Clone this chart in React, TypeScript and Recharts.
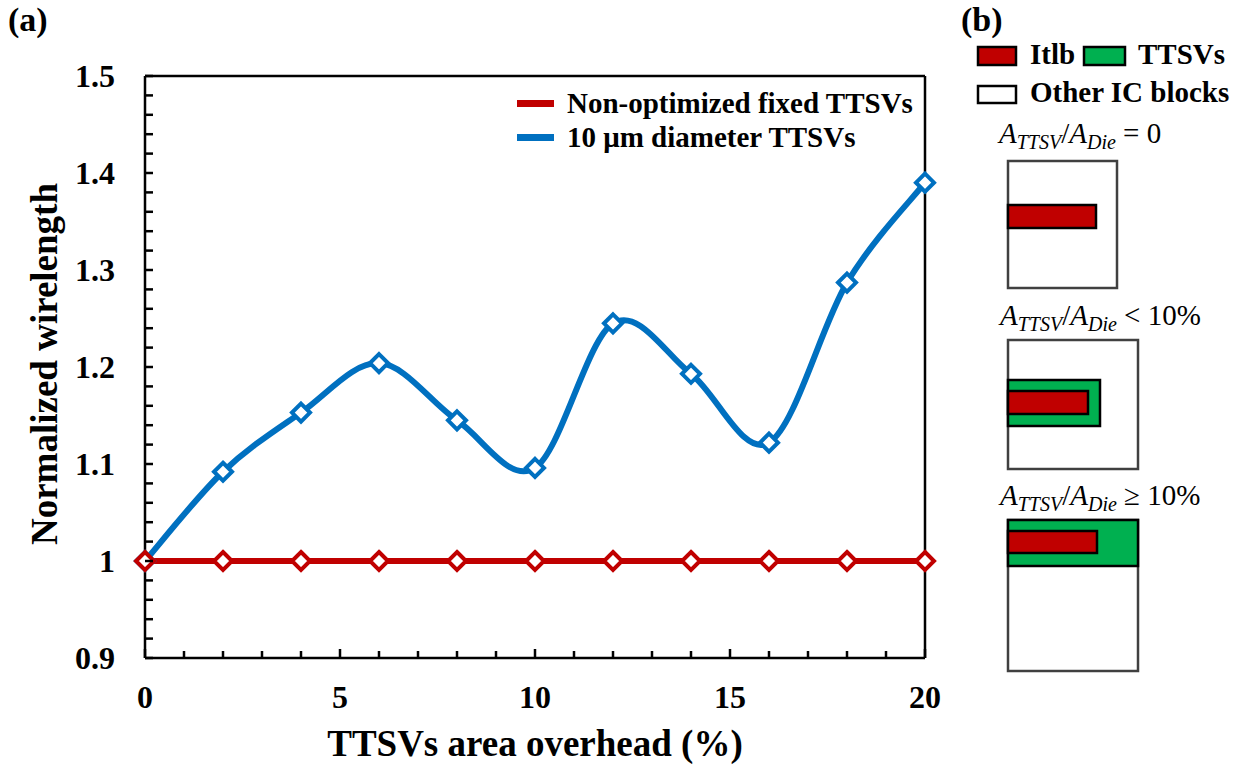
import { LineChart, Line, XAxis, YAxis, Legend, ReferenceLine, Label } from "recharts";

const OVERHEAD = [0, 2, 4, 6, 8, 10, 12, 14, 16, 18, 20];
const FIXED_TTSV = [1, 1, 1, 1, 1, 1, 1, 1, 1, 1, 1];
const TTSV_10UM = [1, 1.092, 1.153, 1.204, 1.145, 1.096, 1.245, 1.193, 1.122, 1.287, 1.39];

const X_LABELS = [0, 5, 10, 15, 20];
const Y_LABELS = [0.9, 1, 1.1, 1.2, 1.3, 1.4, 1.5];
// minor ticks: every 1 on x, every 0.02 on y
const X_TICKS = Array.from({ length: 21 }, (_, i) => i);
const Y_TICKS = Array.from({ length: 31 }, (_, i) => Math.round((0.9 + i * 0.02) * 100) / 100);

const RED = "#C00000";
const BLUE = "#0070C0";
const GREEN = "#00B050";
const FONT = "'Liberation Serif', 'Times New Roman', serif";

const data = OVERHEAD.map((x, i) => ({ x, fixed: FIXED_TTSV[i], d10: TTSV_10UM[i] }));

// Excel-like smoothed line (Catmull-Rom)
const smoothCurve = (context: any) => {
  let pts: number[][] = [];
  return {
    areaStart() {},
    areaEnd() {},
    lineStart() {
      pts = [];
    },
    point(x: number, y: number) {
      pts.push([+x, +y]);
    },
    lineEnd() {
      const n = pts.length;
      if (!n) return;
      context.moveTo(pts[0][0], pts[0][1]);
      const k = 1 / 6;
      for (let i = 0; i < n - 1; i++) {
        const p0 = pts[Math.max(i - 1, 0)];
        const p1 = pts[i];
        const p2 = pts[i + 1];
        const p3 = pts[Math.min(i + 2, n - 1)];
        context.bezierCurveTo(
          p1[0] + (p2[0] - p0[0]) * k,
          p1[1] + (p2[1] - p0[1]) * k,
          p2[0] - (p3[0] - p1[0]) * k,
          p2[1] - (p3[1] - p1[1]) * k,
          p2[0],
          p2[1]
        );
      }
    },
  };
};

const diamond = (color: string) => (props: any) => {
  const { cx, cy, index } = props;
  const r = 9;
  return (
    <path
      key={`d-${color}-${index}`}
      d={`M${cx},${cy - r} L${cx + r},${cy} L${cx},${cy + r} L${cx - r},${cy} Z`}
      fill="#fff"
      stroke={color}
      strokeWidth={4}
    />
  );
};

const XTick = (props: any) => {
  const { x, y, payload } = props;
  const major = X_LABELS.includes(payload.value);
  return (
    <g>
      <line x1={x} y1={y} x2={x} y2={y - (major ? 9 : 7)} stroke="#000" strokeWidth={2.5} />
      {major && (
        <text x={x} y={y + 50} textAnchor="middle" fontFamily={FONT} fontWeight="bold" fontSize={32} fill="#000">
          {payload.value}
        </text>
      )}
    </g>
  );
};

const YTick = (props: any) => {
  const { x, y, payload } = props;
  const major = Y_LABELS.some((v) => Math.abs(v - payload.value) < 1e-6);
  return (
    <g>
      <line x1={x} y1={y} x2={x + 8} y2={y} stroke="#000" strokeWidth={2.5} />
      {major && (
        <text x={x - 30} y={y + 11} textAnchor="end" fontFamily={FONT} fontWeight="bold" fontSize={32} fill="#000">
          {payload.value}
        </text>
      )}
    </g>
  );
};

const legendItems = [
  { label: "Non-optimized fixed TTSVs", color: RED },
  { label: "10 μm diameter TTSVs", color: BLUE },
];

const renderLegend = () => (
  <div style={{ fontFamily: FONT, fontWeight: "bold", fontSize: 29 }}>
    {legendItems.map((it) => (
      <div key={it.label} style={{ display: "flex", alignItems: "center", height: 34, whiteSpace: "nowrap" }}>
        <span style={{ display: "inline-block", width: 37, height: 7, background: it.color, marginRight: 13 }} />
        <span>{it.label}</span>
      </div>
    ))}
  </div>
);

const MathLabel = ({ x, y, rel }: { x: number; y: number; rel: string }) => (
  <text x={x} y={y} fontFamily={FONT} fontSize={29} fill="#000">
    <tspan fontStyle="italic">A</tspan>
    <tspan fontStyle="italic" fontSize={20} dy={6}>TTSV</tspan>
    <tspan dy={-6}>/</tspan>
    <tspan fontStyle="italic">A</tspan>
    <tspan fontStyle="italic" fontSize={20} dy={6}>Die</tspan>
    <tspan dy={-6}>{` ${rel}`}</tspan>
  </text>
);

const PanelB = () => (
  <svg width={1243} height={765} style={{ position: "absolute", left: 0, top: 0, pointerEvents: "none" }}>
    <text x={8} y={31} fontFamily={FONT} fontWeight="bold" fontSize={34}>(a)</text>
    <text x={961} y={31} fontFamily={FONT} fontWeight="bold" fontSize={34}>(b)</text>

    <rect x={978} y={47} width={38} height={18} fill={RED} stroke="#000" strokeWidth={2.5} />
    <text x={1030} y={64} fontFamily={FONT} fontWeight="bold" fontSize={29}>Itlb</text>
    <rect x={1084} y={47} width={41} height={18} fill={GREEN} stroke="#000" strokeWidth={2.5} />
    <text x={1138} y={64} fontFamily={FONT} fontWeight="bold" fontSize={29}>TTSVs</text>
    <rect x={978} y={86} width={38} height={17} fill="#fff" stroke="#000" strokeWidth={2.5} />
    <text x={1030} y={102} fontFamily={FONT} fontWeight="bold" fontSize={29}>Other IC blocks</text>

    <MathLabel x={999} y={143} rel="= 0" />
    <rect x={1008} y={161} width={109} height={127} fill="#fff" stroke="#404040" strokeWidth={2.5} />
    <rect x={1008} y={205} width={88} height={23} fill={RED} stroke="#000" strokeWidth={2.5} />

    <MathLabel x={1000} y={325} rel="< 10%" />
    <rect x={1008} y={340} width={130} height={129} fill="#fff" stroke="#404040" strokeWidth={2.5} />
    <rect x={1008} y={380} width={92} height={46} fill={GREEN} stroke="#000" strokeWidth={2.5} />
    <rect x={1008} y={391} width={80} height={23} fill={RED} stroke="#000" strokeWidth={2.5} />

    <MathLabel x={1000} y={505} rel="≥ 10%" />
    <rect x={1008} y={520} width={130} height={151} fill="#fff" stroke="#404040" strokeWidth={2.5} />
    <rect x={1008} y={520} width={130} height={46} fill={GREEN} stroke="#000" strokeWidth={2.5} />
    <rect x={1008} y={531} width={89} height={22} fill={RED} stroke="#000" strokeWidth={2.5} />
  </svg>
);

export default function App() {
  return (
    <div style={{ position: "absolute", left: 0, top: 0, width: 1243, height: 765, background: "#fff" }}>
      <LineChart width={1243} height={765} data={data} margin={{ top: 76, right: 318, bottom: 47, left: 85 }}>
        <XAxis
          dataKey="x"
          type="number"
          domain={[0, 20]}
          ticks={X_TICKS}
          interval={0}
          tick={<XTick />}
          tickLine={false}
          tickSize={0}
          tickMargin={0}
          height={60}
          axisLine={{ stroke: "#000", strokeWidth: 2.5 }}
        >
          <Label
            content={() => (
              <text x={535} y={756} textAnchor="middle" fontFamily={FONT} fontWeight="bold" fontSize={37} fill="#000">
                TTSVs area overhead (%)
              </text>
            )}
          />
        </XAxis>
        <YAxis
          type="number"
          domain={[0.9, 1.5]}
          ticks={Y_TICKS}
          interval={0}
          tick={<YTick />}
          tickLine={false}
          tickSize={0}
          tickMargin={0}
          width={60}
          allowDataOverflow
          axisLine={{ stroke: "#000", strokeWidth: 2.5 }}
        >
          <Label
            content={() => (
              <text
                x={57}
                y={364}
                transform="rotate(-90 57 364)"
                textAnchor="middle"
                fontFamily={FONT}
                fontWeight="bold"
                fontSize={37}
                fill="#000"
              >
                Normalized wirelength
              </text>
            )}
          />
        </YAxis>
        <ReferenceLine y={1.5} stroke="#000" strokeWidth={2.5} />
        <ReferenceLine x={20} stroke="#000" strokeWidth={2.5} />
        <Legend
          layout="vertical"
          align="center"
          verticalAlign="middle"
          content={renderLegend}
          wrapperStyle={{ left: 517, top: 86, width: 420, height: 70 }}
        />
        <Line
          dataKey="d10"
          type={smoothCurve as any}
          stroke={BLUE}
          strokeWidth={6}
          dot={diamond(BLUE)}
          activeDot={false}
          isAnimationActive={false}
        />
        <Line
          dataKey="fixed"
          type="linear"
          stroke={RED}
          strokeWidth={6}
          dot={diamond(RED)}
          activeDot={false}
          isAnimationActive={false}
        />
      </LineChart>
      <PanelB />
    </div>
  );
}
